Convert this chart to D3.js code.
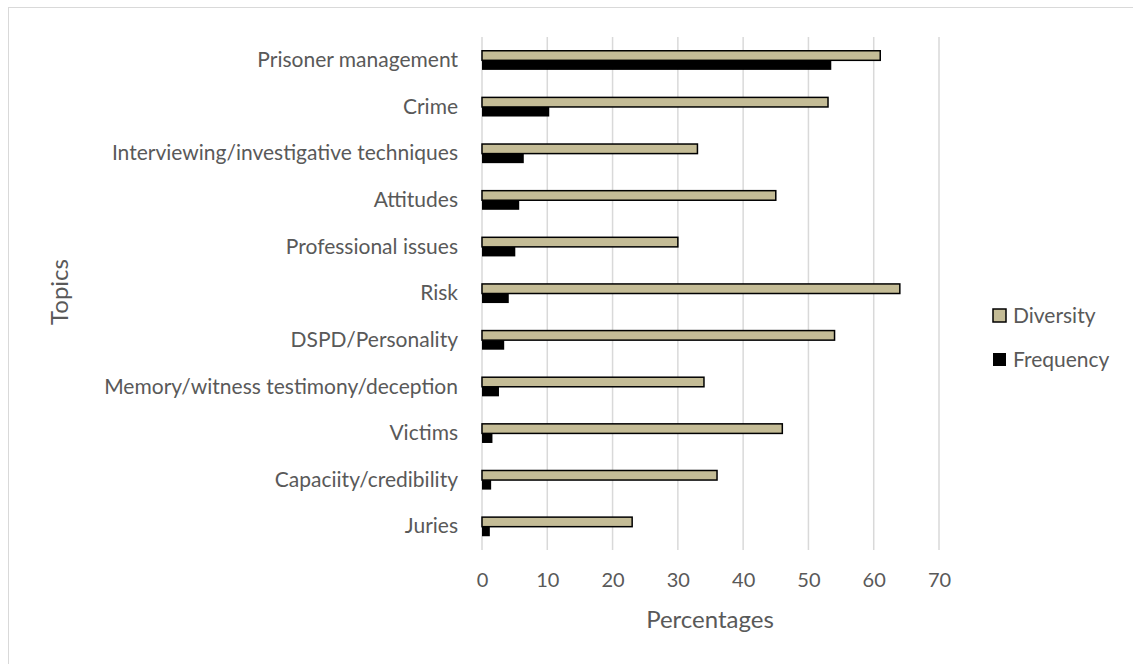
<!DOCTYPE html>
<html>
<head>
<meta charset="utf-8">
<script src="https://cdn.jsdelivr.net/npm/d3@7"></script>
<style>
  body { margin: 0; background: #fff; }
  svg { display: block; font-family: Lato, "Open Sans", sans-serif; }
</style>
</head>
<body>
<svg id="chart" width="1133" height="664"></svg>
<script>
// Topics, listed top to bottom
const topics = [
  "Prisoner management",
  "Crime",
  "Interviewing/investigative techniques",
  "Attitudes",
  "Professional issues",
  "Risk",
  "DSPD/Personality",
  "Memory/witness testimony/deception",
  "Victims",
  "Capaciity/credibility",
  "Juries"
];
const diversity = [61, 53, 33, 45, 30, 64, 54, 34, 46, 36, 23];
const frequency = [53.5, 10.3, 6.4, 5.7, 5.1, 4.1, 3.4, 2.6, 1.6, 1.4, 1.2];
const seriesNames = ["Diversity", "Frequency"];
const xTicks = [0, 10, 20, 30, 40, 50, 60, 70];

const svg = d3.select("#chart");
const textColor = "#595959";
const font = "Lato, 'Open Sans', sans-serif";
const colors = { Diversity: "#c4bc96", Frequency: "#000000" };

// chart frame
svg.append("rect")
  .attr("x", 8.5).attr("y", 7.5)
  .attr("width", 1140).attr("height", 670)
  .attr("fill", "none").attr("stroke", "#d9d9d9").attr("stroke-width", 1);

const plot = { left: 482, right: 939, top: 37, bottom: 550 };

const x = d3.scaleLinear().domain([0, 70]).range([plot.left, plot.right]);
const y = d3.scaleBand().domain(topics).range([plot.top, plot.bottom]).paddingInner(0.59).paddingOuter(0.295);
const inner = d3.scaleBand().domain(seriesNames).range([0, y.bandwidth()]);

// vertical gridlines
svg.append("g").selectAll("line").data(xTicks).join("line")
  .attr("x1", d => x(d)).attr("x2", d => x(d))
  .attr("y1", plot.top).attr("y2", plot.bottom)
  .attr("stroke", "#d9d9d9").attr("stroke-width", 1.5);

// x axis tick labels
const xAxis = d3.axisBottom(x).tickValues(xTicks).tickSize(0).tickPadding(0);
const gx = svg.append("g").attr("transform", `translate(0,${plot.bottom})`).call(xAxis);
gx.select(".domain").remove();
gx.selectAll("text")
  .attr("y", 37).attr("dy", 0)
  .attr("fill", textColor)
  .style("font-size", "20px")
  .style("font-family", font);

// y axis category labels
const yAxis = d3.axisLeft(y).tickSize(0).tickPadding(0);
const gy = svg.append("g").attr("transform", `translate(${plot.left - 24},0)`).call(yAxis);
gy.select(".domain").remove();
gy.selectAll("text")
  .attr("fill", textColor)
  .style("font-size", "21px")
  .style("font-family", font);

// bars
const rows = topics.map((t, i) => ({ topic: t, Diversity: diversity[i], Frequency: frequency[i] }));
const groups = svg.append("g").selectAll("g").data(rows).join("g")
  .attr("transform", d => `translate(0,${y(d.topic)})`);

groups.append("rect")
  .attr("x", x(0))
  .attr("y", inner("Frequency"))
  .attr("width", d => x(d.Frequency) - x(0))
  .attr("height", inner.bandwidth())
  .attr("fill", colors.Frequency);

groups.append("rect")
  .attr("x", x(0))
  .attr("y", inner("Diversity"))
  .attr("width", d => x(d.Diversity) - x(0))
  .attr("height", inner.bandwidth())
  .attr("fill", colors.Diversity)
  .attr("stroke", "#000").attr("stroke-width", 1.5);

// axis titles
svg.append("text")
  .attr("x", 710).attr("y", 628)
  .attr("text-anchor", "middle")
  .attr("fill", textColor)
  .style("font-size", "24px")
  .text("Percentages");

svg.append("text")
  .attr("transform", "translate(68,292) rotate(-90)")
  .attr("text-anchor", "middle")
  .attr("fill", textColor)
  .style("font-size", "24px")
  .text("Topics");

// legend
const legend = svg.append("g").selectAll("g").data(seriesNames).join("g")
  .attr("transform", (d, i) => `translate(993,${309 + i * 44})`);
legend.append("rect")
  .attr("width", 13).attr("height", 13)
  .attr("fill", d => colors[d])
  .attr("stroke", "#000").attr("stroke-width", d => d === "Diversity" ? 1.5 : 0);
legend.append("text")
  .attr("x", 20).attr("y", 6.5).attr("dy", "0.35em")
  .attr("fill", textColor)
  .style("font-size", "21px")
  .text(d => d);
</script>
</body>
</html>
